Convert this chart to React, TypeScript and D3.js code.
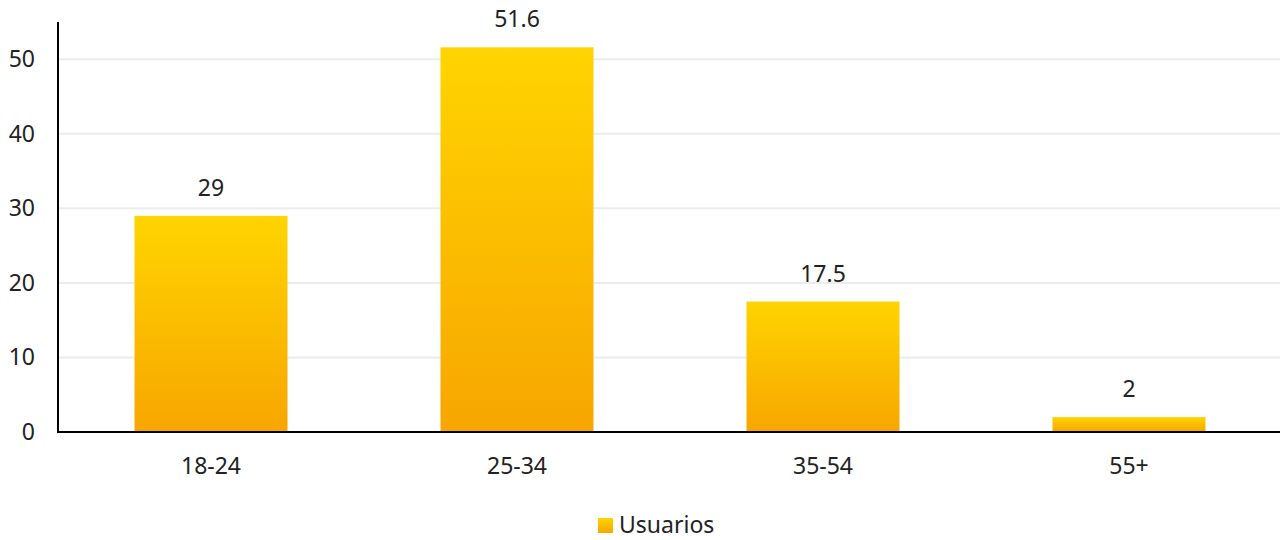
import React from "react";
import * as d3 from "d3";

const categories = ["18-24", "25-34", "35-54", "55+"];
const values = [29, 51.6, 17.5, 2];
const yTicks = [0, 10, 20, 30, 40, 50];
const seriesName = "Usuarios";

const W = 1280;
const H = 540;
const left = 58;
const right = 1282;
const top = 22;
const bottom = 432;
const FS = 23;

export default function App() {
  const x = d3
    .scaleBand<string>()
    .domain(categories)
    .range([left, right])
    .paddingInner(0.5)
    .paddingOuter(0.25);
  const y = d3.scaleLinear().domain([0, 55]).range([bottom, top]);
  const font = "'Noto Sans', 'Open Sans', sans-serif";

  return (
    <svg
      width={W}
      height={H}
      style={{ position: "absolute", left: 0, top: 0, background: "#fff" }}
      fontFamily={font}
    >
      <defs>
        <linearGradient id="barGrad" x1="0" y1="0" x2="0" y2="1">
          <stop offset="0%" stopColor="#ffd400" />
          <stop offset="100%" stopColor="#f7a600" />
        </linearGradient>
      </defs>
      {yTicks
        .filter((t) => t !== 0)
        .map((t) => (
          <line
            key={"g" + t}
            x1={left}
            x2={W}
            y1={y(t)}
            y2={y(t)}
            stroke="#ececec"
            strokeWidth={2}
          />
        ))}
      {yTicks.map((t) => (
        <text
          key={"t" + t}
          x={35}
          y={y(t) + 8}
          textAnchor="end"
          fontSize={FS}
          fill="#222"
        >
          {t}
        </text>
      ))}
      {categories.map((c, i) => (
        <g key={c}>
          <rect
            x={x(c)}
            y={y(values[i])}
            width={x.bandwidth()}
            height={bottom - y(values[i])}
            fill="url(#barGrad)"
          />
          <text
            x={(x(c) as number) + x.bandwidth() / 2}
            y={y(values[i]) - 20}
            textAnchor="middle"
            fontSize={FS}
            fill="#222"
          >
            {values[i]}
          </text>
          <text
            x={(x(c) as number) + x.bandwidth() / 2}
            y={474}
            textAnchor="middle"
            fontSize={FS}
            fill="#222"
          >
            {c}
          </text>
        </g>
      ))}
      <line x1={left} x2={left} y1={top} y2={bottom + 1} stroke="#000" strokeWidth={2} />
      <line x1={left - 1} x2={W} y1={bottom} y2={bottom} stroke="#000" strokeWidth={2} />
      <rect x={598} y={518} width={15} height={15} fill="url(#barGrad)" />
      <text x={619} y={533} fontSize={FS} fill="#222">
        {seriesName}
      </text>
    </svg>
  );
}
